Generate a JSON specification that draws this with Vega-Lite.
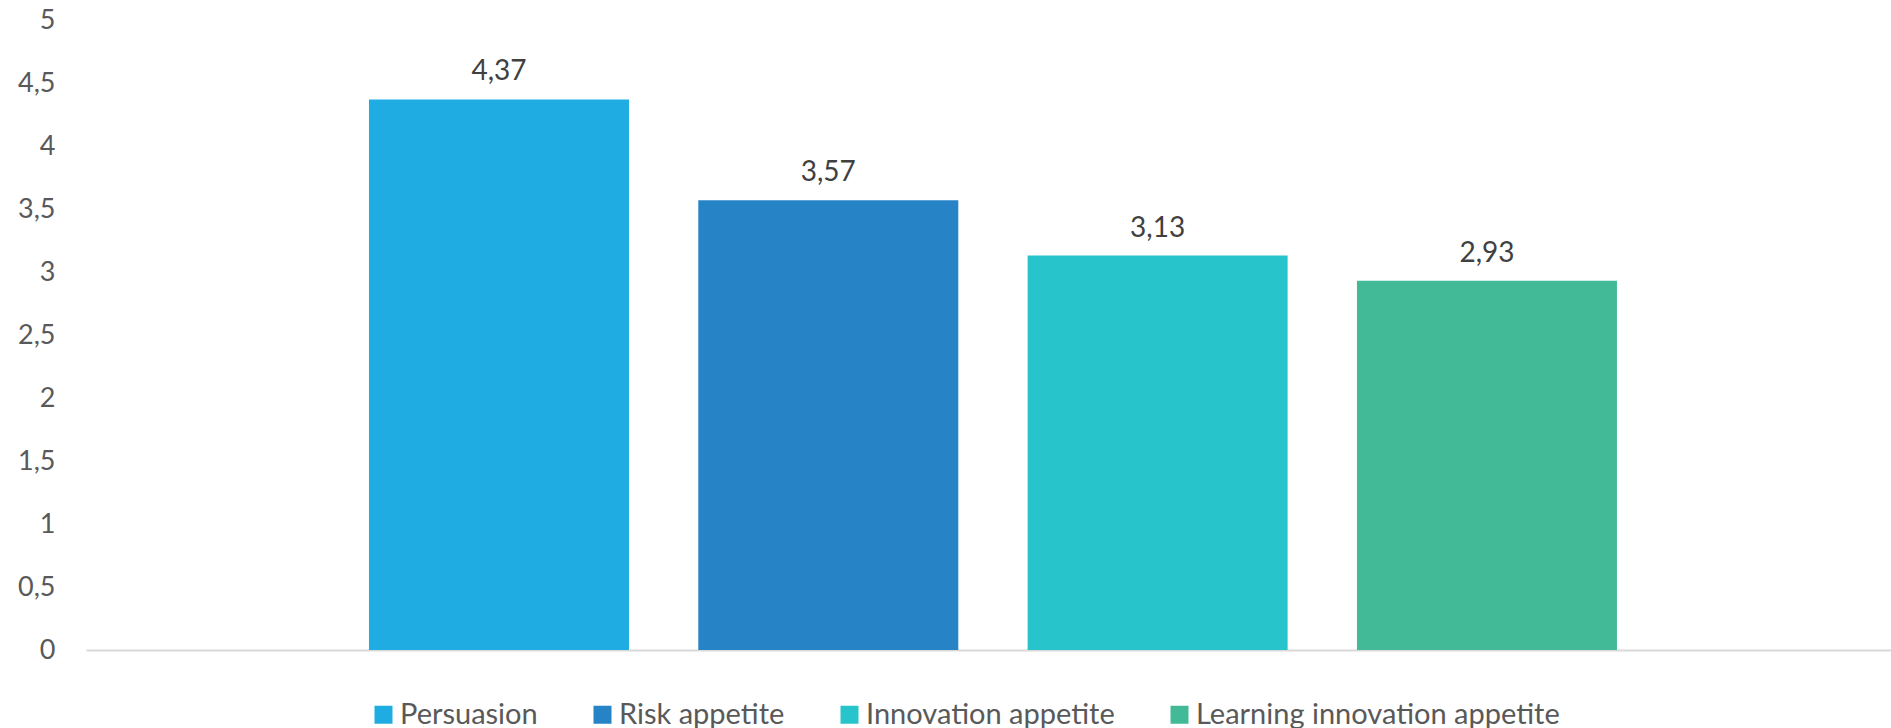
{
  "$schema": "https://vega.github.io/schema/vega-lite/v6.json",
  "width": 1805,
  "height": 630,
  "autosize": {"type": "none"},
  "padding": {"left": 86, "top": 20, "right": 0, "bottom": 78},
  "config": {
    "view": {"stroke": null},
    "font": "Lato",
    "locale": {"number": {"decimal": ",", "thousands": ".", "grouping": [3], "currency": ["", " €"]}}
  },
  "data": {
    "values": [
      {"dimension": "Persuasion", "score": 4.37},
      {"dimension": "Risk appetite", "score": 3.57},
      {"dimension": "Innovation appetite", "score": 3.13},
      {"dimension": "Learning innovation appetite", "score": 2.93}
    ]
  },
  "encoding": {
    "x": {
      "field": "dimension",
      "type": "nominal",
      "sort": null,
      "scale": {"paddingInner": 0.2105, "paddingOuter": 0.8457, "align": 0.508},
      "axis": {"title": null, "labels": false, "ticks": false, "domainColor": "#d9d9d9", "domainWidth": 2}
    },
    "y": {
      "field": "score",
      "type": "quantitative",
      "scale": {"domain": [0, 5], "nice": false},
      "axis": {
        "title": null,
        "values": [0, 0.5, 1, 1.5, 2, 2.5, 3, 3.5, 4, 4.5, 5],
        "format": ".1~f",
        "grid": false,
        "domain": false,
        "ticks": false,
        "labelFont": "Lato",
        "labelFontSize": 27,
        "labelColor": "#595959",
        "labelPadding": 31
      }
    }
  },
  "layer": [
    {
      "mark": {"type": "bar"},
      "encoding": {
        "color": {
          "field": "dimension",
          "type": "nominal",
          "sort": null,
          "scale": {
            "domain": ["Persuasion", "Risk appetite", "Innovation appetite", "Learning innovation appetite"],
            "range": ["#1EACE3", "#2683C6", "#27C4CC", "#42BA97"]
          },
          "legend": {
            "title": null,
            "orient": "none",
            "direction": "horizontal",
            "columns": 4,
            "legendX": 283,
            "legendY": 680,
            "symbolType": "square",
            "symbolSize": 324,
            "symbolStrokeWidth": 0,
            "labelFont": "Lato",
            "labelFontSize": 29,
            "labelColor": "#595959",
            "labelOffset": 2,
            "columnPadding": 50,
            "labelLimit": 600
          }
        }
      }
    },
    {
      "mark": {"type": "text", "dy": -19, "baseline": "alphabetic", "fontSize": 28, "font": "Lato", "color": "#404040"},
      "encoding": {"text": {"field": "score", "type": "quantitative", "format": ".2f"}}
    }
  ]
}
